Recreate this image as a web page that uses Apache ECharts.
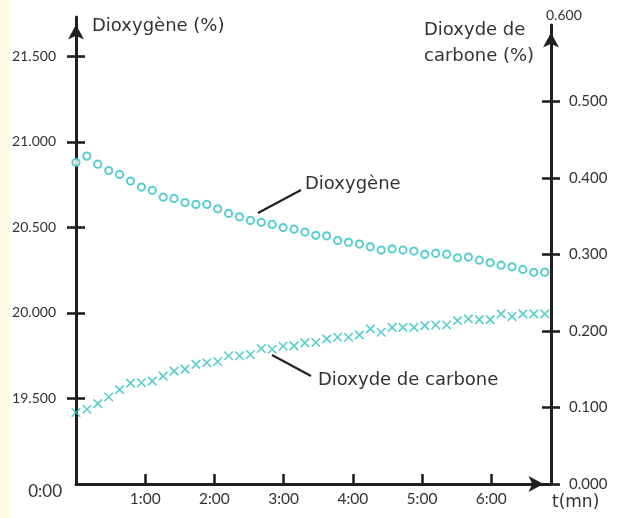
<!DOCTYPE html>
<html><head><meta charset="utf-8">
<script src="https://cdn.jsdelivr.net/npm/echarts@6/dist/echarts.min.js"></script>
<style>html,body{margin:0;padding:0;background:#fff}#c{width:627px;height:518px}</style>
</head><body><div id="c"></div>
<script>
// time in seconds
var times = [0, 9.45, 18.9, 28.35, 37.8, 47.25, 56.7, 66.15, 75.6, 85.05, 94.5, 103.95, 113.4, 122.85, 132.3, 141.75, 151.2, 160.65, 170.1, 179.55, 189, 198.45, 207.9, 217.35, 226.8, 236.25, 245.7, 255.15, 264.6, 274.05, 283.5, 292.95, 302.4, 311.85, 321.3, 330.75, 340.2, 349.65, 359.1, 368.55, 378, 387.45, 396.9, 406.35];
var oxygen = [20.879, 20.916, 20.869, 20.832, 20.809, 20.770, 20.735, 20.716, 20.676, 20.669, 20.645, 20.634, 20.634, 20.608, 20.581, 20.561, 20.540, 20.529, 20.517, 20.499, 20.489, 20.472, 20.453, 20.450, 20.423, 20.412, 20.402, 20.386, 20.367, 20.374, 20.367, 20.361, 20.342, 20.348, 20.343, 20.322, 20.326, 20.308, 20.293, 20.279, 20.269, 20.254, 20.237, 20.238];
var co2 = [0.0934, 0.0977, 0.1051, 0.1137, 0.1233, 0.1319, 0.1324, 0.1345, 0.1410, 0.1475, 0.1501, 0.1563, 0.1585, 0.1602, 0.1676, 0.1676, 0.1693, 0.1771, 0.1762, 0.1801, 0.1806, 0.1845, 0.1849, 0.1897, 0.1918, 0.1918, 0.1949, 0.2027, 0.1983, 0.2048, 0.2048, 0.2048, 0.2070, 0.2079, 0.2079, 0.2135, 0.2158, 0.2148, 0.2148, 0.2223, 0.2188, 0.2223, 0.2223, 0.2223];
var xTicks = [60, 120, 180, 240, 300, 360];
var leftTicks = [19.5, 20.0, 20.5, 21.0, 21.5];
var rightTicks = [0.1, 0.2, 0.3, 0.4, 0.5];
var rightLabels = [0, 0.1, 0.2, 0.3, 0.4, 0.5];

var INK = '#231f20', TXT = '#333333', CYAN = '#2ec2c2', FONT = 'Lato', WIDE = '"DejaVu Sans"';
var chart = echarts.init(document.getElementById('c'));
function pair(a, b) { return a.map(function (v, i) { return [v, b[i]]; }); }
function mmss(v) { var m = Math.floor(v / 60), s = Math.round(v % 60); return m + ':' + (s < 10 ? '0' : '') + s; }
function arrow() { return { show: true, onZero: false, symbol: ['none', 'arrow'], symbolSize: [12, 15], symbolOffset: [0, -7.5], lineStyle: { color: INK, width: 3 } }; }
var noLine = { show: false, onZero: false };
var tickStyle = { color: INK, width: 2.6 };
var crossPath = 'path://M0,0L10,10M10,0L0,10';
var XMAX = 411.8, LMIN = 19, LMAX = 21.729, RMAX = 0.6;
function G0() { return { left: 76, right: 76, top: 17, bottom: 34 }; }
function G1() { return { left: 76, right: 76, top: 25, bottom: 34 }; }

chart.setOption({
  animation: false,
  grid: [G0(), G1(), G0(), G1()],
  xAxis: [
    { type: 'value', gridIndex: 0, min: 0, max: XMAX, axisLine: arrow(),
      axisTick: { show: true, inside: true, length: 10, customValues: xTicks, lineStyle: tickStyle },
      axisLabel: { customValues: xTicks, formatter: mmss, color: TXT, fontFamily: FONT, fontSize: 15.5, margin: 7 },
      splitLine: { show: false } },
    { type: 'value', gridIndex: 1, min: 0, max: XMAX, show: false },
    { type: 'value', gridIndex: 2, min: 0, max: XMAX, show: false },
    { type: 'value', gridIndex: 3, min: 0, max: XMAX, show: false }
  ],
  yAxis: [
    { type: 'value', gridIndex: 0, position: 'left', min: LMIN, max: LMAX, axisLine: arrow(),
      axisTick: { show: true, length: 9, customValues: leftTicks, lineStyle: tickStyle },
      axisLabel: { customValues: leftTicks, formatter: function (v) { return v.toFixed(3); }, color: TXT, fontFamily: FONT, fontSize: 14, margin: 20 },
      splitLine: { show: false } },
    { type: 'value', gridIndex: 1, position: 'right', min: 0, max: RMAX, axisLine: arrow(),
      axisTick: { show: true, length: 9, customValues: rightLabels, lineStyle: tickStyle },
      axisLabel: { customValues: rightLabels, formatter: function (v) { return v.toFixed(3); }, color: TXT, fontFamily: FONT, fontSize: 15, margin: 18 },
      splitLine: { show: false } },
    { type: 'value', gridIndex: 2, position: 'left', min: LMIN, max: LMAX, axisLine: noLine,
      axisTick: { show: true, inside: true, length: 9, customValues: leftTicks, lineStyle: tickStyle },
      axisLabel: { show: false }, splitLine: { show: false } },
    { type: 'value', gridIndex: 3, position: 'right', min: 0, max: RMAX, axisLine: noLine,
      axisTick: { show: true, inside: true, length: 9, customValues: rightTicks, lineStyle: tickStyle },
      axisLabel: { show: false }, splitLine: { show: false } }
  ],
  series: [
    { name: 'Dioxygène', type: 'scatter', xAxisIndex: 0, yAxisIndex: 0, clip: false, z: 5,
      symbol: 'emptyCircle', symbolSize: 7.2, itemStyle: { color: CYAN, borderColor: CYAN, borderWidth: 1.3 },
      data: pair(times, oxygen) },
    { name: 'Dioxyde de carbone', type: 'scatter', xAxisIndex: 1, yAxisIndex: 1, clip: false, z: 5,
      symbol: crossPath, symbolSize: 8.5, itemStyle: { color: 'none', borderColor: CYAN, borderWidth: 1.6 },
      data: pair(times, co2) }
  ],
  graphic: [
    { type: 'rect', shape: { x: 0, y: 0, width: 10, height: 518 }, style: { fill: '#fffbe2' }, z: -1 },
    { type: 'text', left: 92, top: 17, style: { text: 'Dioxygène (%)', fill: TXT, font: '18px ' + WIDE } },
    { type: 'text', left: 424, top: 17, style: { text: 'Dioxyde de\ncarbone (%)', fill: TXT, font: '18px ' + WIDE, lineHeight: 26 } },
    { type: 'text', left: 546, top: 8, style: { text: '0.600', fill: TXT, font: '14px ' + FONT } },
    { type: 'text', right: 565, top: 483, style: { text: '0:00', fill: TXT, font: '17px ' + FONT, align: 'right' } },
    { type: 'text', left: 552, top: 494, style: { text: 't(mn)', fill: TXT, font: '17px ' + WIDE } },
    { type: 'text', left: 305, top: 175, style: { text: 'Dioxygène', fill: TXT, font: '18px ' + WIDE } },
    { type: 'text', left: 318, top: 371, style: { text: 'Dioxyde de carbone', fill: TXT, font: '18px ' + WIDE } },
    { type: 'line', shape: { x1: 258, y1: 213, x2: 301, y2: 190 }, style: { stroke: INK, lineWidth: 2 } },
    { type: 'line', shape: { x1: 272, y1: 355, x2: 311, y2: 376 }, style: { stroke: INK, lineWidth: 2 } }
  ]
});
</script></body></html>
